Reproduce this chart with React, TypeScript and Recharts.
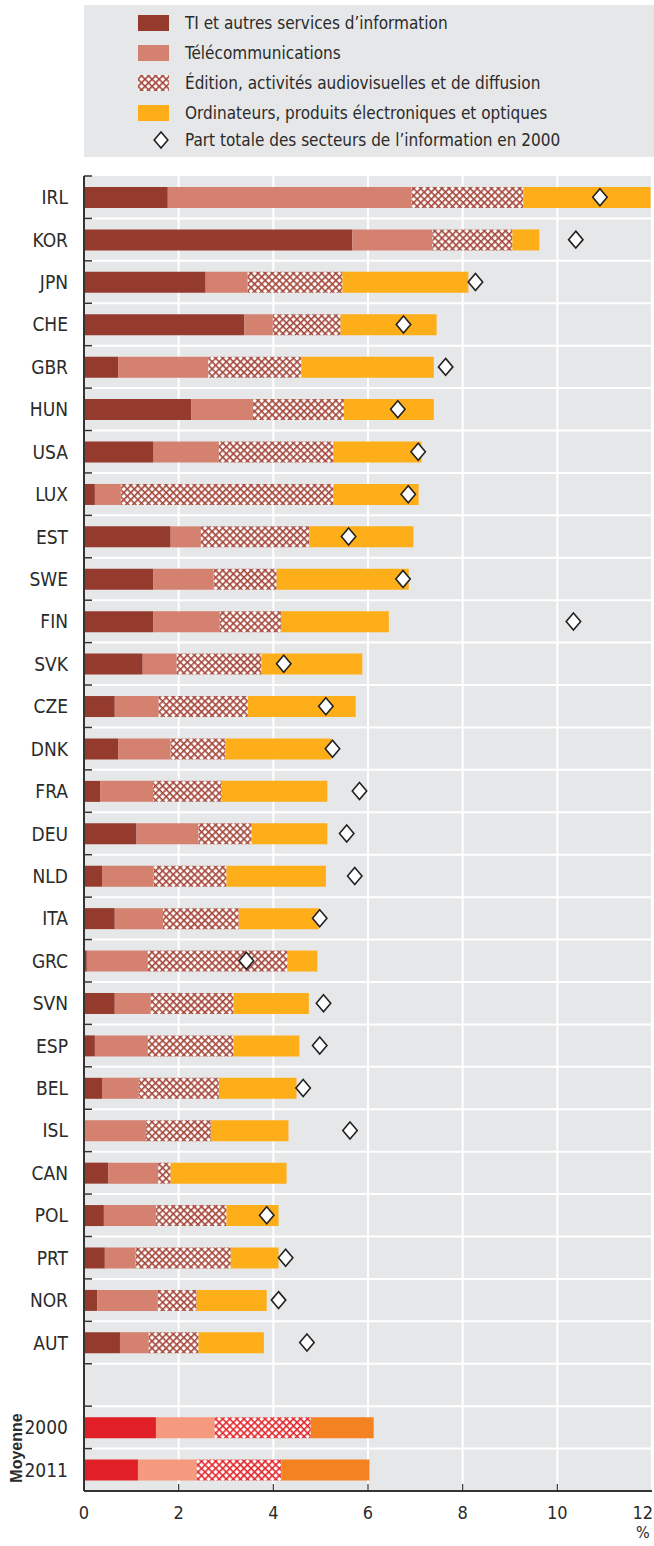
import { Bar, CartesianGrid, Cell, ComposedChart, Line, XAxis, YAxis } from "recharts";

const countries = [
  "IRL", "KOR", "JPN", "CHE", "GBR", "HUN", "USA", "LUX", "EST", "SWE",
  "FIN", "SVK", "CZE", "DNK", "FRA", "DEU", "NLD", "ITA", "GRC", "SVN",
  "ESP", "BEL", "ISL", "CAN", "POL", "PRT", "NOR", "AUT", " ", "2000", "2011",
];
// share of value added, %
const itServices = [
  1.77, 5.67, 2.57, 3.39, 0.72, 2.27, 1.47, 0.23, 1.83, 1.46,
  1.46, 1.24, 0.65, 0.72, 0.34, 1.11, 0.38, 0.65, 0.06, 0.65,
  0.23, 0.38, 0, 0.51, 0.42, 0.44, 0.28, 0.76, 0, 1.52, 1.14,
];
const telecom = [
  5.15, 1.69, 0.89, 0.6, 1.91, 1.3, 1.38, 0.55, 0.64, 1.28,
  1.41, 0.72, 0.93, 1.11, 1.12, 1.31, 1.09, 1.02, 1.29, 0.76,
  1.12, 0.78, 1.31, 1.06, 1.1, 0.65, 1.28, 0.61, 0, 1.24, 1.24,
];
const publishing = [
  2.36, 1.69, 2.0, 1.43, 1.96, 1.92, 2.42, 4.49, 2.29, 1.33,
  1.29, 1.79, 1.88, 1.16, 1.45, 1.12, 1.54, 1.6, 2.95, 1.75,
  1.81, 1.69, 1.37, 0.26, 1.49, 2.01, 0.82, 1.05, 0, 2.03, 1.79,
];
const computers = [
  2.69, 0.57, 2.66, 2.03, 2.8, 1.9, 1.86, 1.8, 2.2, 2.79,
  2.28, 2.13, 2.28, 2.24, 2.23, 1.6, 2.1, 1.69, 0.63, 1.59,
  1.39, 1.64, 1.64, 2.45, 1.1, 1.01, 1.48, 1.38, 0, 1.33, 1.86,
];
const total2000 = [
  10.9, 10.39, 8.27, 6.75, 7.64, 6.63, 7.06, 6.85, 5.59, 6.74,
  10.34, 4.22, 5.11, 5.25, 5.82, 5.55, 5.72, 4.98, 3.43, 5.06,
  4.98, 4.63, 5.62, null, 3.86, 4.26, 4.11, 4.71, null, null, null,
];
const xTicks = [0, 2, 4, 6, 8, 10, 12];
const averageRows = ["2000", "2011"];

const data = countries.map((c, i) => ({
  name: c,
  it: itServices[i],
  tel: telecom[i],
  pub: publishing[i],
  comp: computers[i],
  t2000: total2000[i],
}));

const FONT = '"Liberation Sans Narrow", "DejaVu Sans Condensed", "Arial Narrow", sans-serif';
const TEXT = "#2b2b2b";
const W = 654;
const H = 1546;
const PLOT_TOP = 176;
const PLOT_BOTTOM = 1491;
const PITCH = (PLOT_BOTTOM - PLOT_TOP) / countries.length;

const colors = {
  it: "#943b2e",
  tel: "#d58170",
  hatch: "#a5463a",
  comp: "#fdae19",
  itAvg: "#e01f26",
  telAvg: "#f59a7e",
  hatchAvg: "#e3262b",
  compAvg: "#f58220",
};

const isAvg = (name: string) => averageRows.includes(name);

function HatchDefs() {
  return (
    <defs>
      <pattern id="hatch" width="5" height="5" patternUnits="userSpaceOnUse" patternTransform="rotate(45)">
        <rect width="5" height="5" fill="#fff" />
        <rect width="5" height="1.6" fill={colors.hatch} />
        <rect width="1.6" height="5" fill={colors.hatch} />
      </pattern>
      <pattern id="hatchAvg" width="5" height="5" patternUnits="userSpaceOnUse" patternTransform="rotate(45)">
        <rect width="5" height="5" fill="#fff" />
        <rect width="5" height="1.6" fill={colors.hatchAvg} />
        <rect width="1.6" height="5" fill={colors.hatchAvg} />
      </pattern>
    </defs>
  );
}

function Diamond({ cx, cy, r = 8.5 }: { cx: number; cy: number; r?: number }) {
  return (
    <path
      d={`M${cx},${cy - r} L${cx + r * 0.85},${cy} L${cx},${cy + r} L${cx - r * 0.85},${cy} Z`}
      fill="#fff"
      stroke="#222"
      strokeWidth={1.6}
    />
  );
}

function CategoryTick(props: any) {
  const { x, y, payload } = props;
  const axisX = x + 16;
  return (
    <g>
      <line x1={axisX} x2={axisX + 8} y1={y - PITCH / 2} y2={y - PITCH / 2} stroke="#333" strokeWidth={1.5} />
      <text x={x} y={y} dy={7} textAnchor="end" fontFamily={FONT} fontSize={19} fill={TEXT}>
        {payload.value}
      </text>
    </g>
  );
}

function ValueTick(props: any) {
  const { x, y, payload } = props;
  const last = payload.value === 12;
  return (
    <g>
      {payload.value > 0 && payload.value < 12 && (
        <line x1={x} x2={x} y1={y - 7} y2={y} stroke="#333" strokeWidth={1.2} />
      )}
      <text
        x={last ? x + 1 : x}
        y={y}
        dy={28}
        textAnchor={last ? "end" : "middle"}
        fontFamily={FONT}
        fontSize={18}
        fill={TEXT}
      >
        {payload.value}
      </text>
    </g>
  );
}

const legendItems = [
  { label: "TI et autres services d’information", kind: "it" },
  { label: "Télécommunications", kind: "tel" },
  { label: "Édition, activités audiovisuelles et de diffusion", kind: "pub" },
  { label: "Ordinateurs, produits électroniques et optiques", kind: "comp" },
  { label: "Part totale des secteurs de l’information en 2000", kind: "dia" },
];
const legendTops = [18, 48, 78, 108, 135];

function LegendBox() {
  return (
    <div
      style={{
        position: "absolute",
        left: 84,
        top: 5,
        width: 570,
        height: 152,
        background: "#e6e7e8",
        fontFamily: FONT,
        fontSize: 17,
        color: TEXT,
      }}
    >
      {legendItems.map((it, i) => (
        <div key={it.kind} style={{ position: "absolute", left: 0, top: legendTops[i] - 12, height: 24, width: 570 }}>
          <svg width={36} height={24} style={{ position: "absolute", left: 54, top: 0 }}>
            <HatchDefs />
            {it.kind === "dia" ? (
              <Diamond cx={23} cy={12} r={8} />
            ) : (
              <rect
                x={0}
                y={4}
                width={31}
                height={16}
                fill={it.kind === "pub" ? "url(#hatch)" : (colors as any)[it.kind]}
              />
            )}
          </svg>
          <span style={{ position: "absolute", left: 101, top: 0, lineHeight: "24px", whiteSpace: "nowrap" }}>
            {it.label}
          </span>
        </div>
      ))}
    </div>
  );
}

export default function App() {
  return (
    <div style={{ position: "absolute", left: 0, top: 0, width: W, height: H, background: "#fff" }}>
      <LegendBox />
      <ComposedChart
        width={W}
        height={H}
        data={data}
        layout="vertical"
        margin={{ top: PLOT_TOP, right: 2, bottom: 0, left: 0 }}
      >
        <HatchDefs />
        <CartesianGrid
          fill="#e6e7e8"
          stroke="#fff"
          strokeWidth={2}
          horizontalCoordinatesGenerator={({ offset }: any) =>
            countries.slice(1).map((_, k) => offset.top + (k + 1) * PITCH)
          }
        />
        <XAxis
          type="number"
          domain={[0, 12]}
          ticks={xTicks}
          interval={0}
          height={H - PLOT_BOTTOM}
          tickSize={0}
          tickMargin={0}
          tickLine={false}
          tick={<ValueTick />}
          axisLine={{ stroke: "#333", strokeWidth: 2 }}
        />
        <YAxis
          type="category"
          dataKey="name"
          width={84}
          interval={0}
          tickSize={0}
          tickMargin={16}
          tickLine={false}
          tick={<CategoryTick />}
          axisLine={{ stroke: "#333", strokeWidth: 2 }}
        />
        <Bar dataKey="it" stackId="a" barSize={21} isAnimationActive={false}>
          {data.map((d) => (
            <Cell key={d.name} fill={isAvg(d.name) ? colors.itAvg : colors.it} />
          ))}
        </Bar>
        <Bar dataKey="tel" stackId="a" barSize={21} isAnimationActive={false}>
          {data.map((d) => (
            <Cell key={d.name} fill={isAvg(d.name) ? colors.telAvg : colors.tel} />
          ))}
        </Bar>
        <Bar dataKey="pub" stackId="a" barSize={21} isAnimationActive={false}>
          {data.map((d) => (
            <Cell key={d.name} fill={isAvg(d.name) ? "url(#hatchAvg)" : "url(#hatch)"} />
          ))}
        </Bar>
        <Bar dataKey="comp" stackId="a" barSize={21} isAnimationActive={false}>
          {data.map((d) => (
            <Cell key={d.name} fill={isAvg(d.name) ? colors.compAvg : colors.comp} />
          ))}
        </Bar>
        <Line
          dataKey="t2000"
          stroke="none"
          isAnimationActive={false}
          activeDot={false}
          dot={(p: any) =>
            p.value == null || p.cx == null ? (
              <g key={p.index} />
            ) : (
              <Diamond key={p.index} cx={p.cx} cy={p.cy} />
            )
          }
        />
      </ComposedChart>
      <div
        style={{
          position: "absolute",
          left: 17,
          top: 1448,
          transform: "translate(-50%, -50%) rotate(-90deg)",
          fontFamily: '"Liberation Sans", Arial, sans-serif',
          fontWeight: "bold",
          fontSize: 16,
          color: TEXT,
          whiteSpace: "nowrap",
        }}
      >
        Moyenne
      </div>
      <div
        style={{
          position: "absolute",
          left: 636,
          top: 1523,
          fontFamily: FONT,
          fontSize: 16,
          color: TEXT,
        }}
      >
        %
      </div>
    </div>
  );
}
